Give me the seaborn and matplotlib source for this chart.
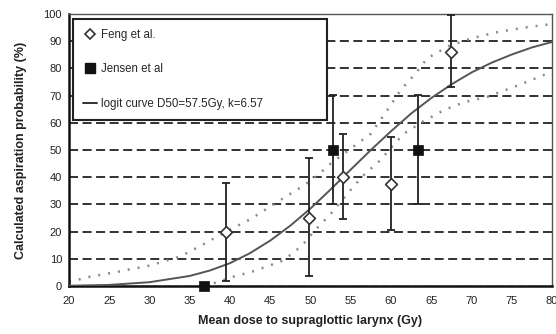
import numpy as np
import pandas as pd
import matplotlib
matplotlib.use("Agg")
import matplotlib.pyplot as plt
import seaborn as sns
from matplotlib.lines import Line2D

# ---- data ----
feng_dose = [39.5, 49.8, 54.0, 60.0, 67.5]
feng_prob = [20.0, 25.0, 40.0, 37.5, 86.0]
feng_lo = [2.0, 3.5, 24.5, 20.5, 73.0]
feng_hi = [37.7, 47.0, 55.8, 54.7, 99.6]

jensen_dose = [36.8, 52.8, 63.3]
jensen_prob = [0.0, 50.0, 50.0]
jensen_lo = [0.0, 30.0, 30.0]
jensen_hi = [0.0, 70.3, 70.3]

curve_dose = [20, 25, 30, 35, 37.5, 40, 42.5, 45, 47.5, 50, 52.5, 55, 57.5,
              60, 62.5, 65, 67.5, 70, 72.5, 75, 77.5, 80]
curve_prob = [0.1, 0.4, 1.4, 3.7, 5.7, 8.4, 12.1, 16.7, 22.2, 28.5, 35.5, 42.8, 50.0,
              56.9, 63.4, 69.1, 74.1, 78.5, 82.1, 85.1, 87.7, 89.7]

upper_dose = [20, 22.6, 26, 30, 33.8, 36.5, 39.5, 42.5, 45, 47, 49.2, 51, 52.5, 55,
              57.5, 59.5, 61.2, 63, 64.5, 67, 69.9, 73, 76.5, 80]
upper_prob = [1.5, 3.4, 5.2, 7.5, 10.8, 15.0, 20.0, 24.5, 29.2, 33.0, 37.0, 41.0, 45.0, 50.5,
              56.0, 64.5, 72.0, 78.0, 83.7, 88.0, 91.0, 93.2, 95.0, 96.3]

lower_dose = [38.0, 40.4, 43, 46.3, 47.5, 49, 50.4, 52.5, 54.6, 56.5, 58.7, 60.2,
              61.6, 64, 66.6, 69, 72, 76, 80]
lower_prob = [1.0, 3.4, 5.5, 9.0, 11.4, 15.0, 20.0, 26.5, 34.0, 40.5, 46.3, 51.5,
              56.0, 60.5, 64.7, 67.5, 69.6, 74.0, 78.8]

x_ticks = [20, 25, 30, 35, 40, 45, 50, 55, 60, 65, 70, 75, 80]
y_ticks = [0, 10, 20, 30, 40, 50, 60, 70, 80, 90, 100]

sns.set_style("white")
plt.rcParams['font.family'] = ['Liberation Sans', 'DejaVu Sans']

fig = plt.figure(figsize=(5.56, 3.34), dpi=100)
ax = fig.add_axes([69/556, 1-286/334, (552-69)/556, (286-14)/334])

# gridlines
for yv in y_ticks[1:-1]:
    ax.axhline(yv, color='#222222', lw=1.3, ls=(0, (5, 2.5)), zorder=1)
ax.axhline(0, color='#222222', lw=1.0, ls=(0, (5, 2.5)), zorder=1)

sns.lineplot(x=upper_dose, y=upper_prob, ax=ax, color='#8a8a8a', lw=1.8,
             linestyle=(0, (0.8, 3.2)), zorder=2)
sns.lineplot(x=lower_dose, y=lower_prob, ax=ax, color='#8a8a8a', lw=1.8,
             linestyle=(0, (0.8, 3.2)), zorder=2)
sns.lineplot(x=curve_dose, y=curve_prob, ax=ax, color='#555555', lw=1.4, zorder=3)

# error bars
fy = np.array(feng_prob)
ax.errorbar(feng_dose, feng_prob,
            yerr=[fy - np.array(feng_lo), np.array(feng_hi) - fy],
            fmt='none', ecolor='#222222', elinewidth=1.3, capsize=3, capthick=1.3, zorder=4)
jy = np.array(jensen_prob)
ax.errorbar(jensen_dose[1:], jensen_prob[1:],
            yerr=[(jy - np.array(jensen_lo))[1:], (np.array(jensen_hi) - jy)[1:]],
            fmt='none', ecolor='#222222', elinewidth=1.3, capsize=3, capthick=1.3, zorder=4)

sns.scatterplot(x=feng_dose, y=feng_prob, ax=ax, marker='D', s=36,
                facecolor='white', edgecolor='#333333', linewidth=1.2, zorder=5)
sns.scatterplot(x=jensen_dose, y=jensen_prob, ax=ax, marker='s', s=55,
                color='#111111', edgecolor='#111111', linewidth=0.5, zorder=5, clip_on=False)

ax.set_xlim(20, 80)
ax.set_ylim(0, 100)
ax.set_xticks(x_ticks)
ax.set_yticks(y_ticks)
ax.tick_params(axis='both', labelsize=8, colors='#222222', length=3, width=1.2,
               direction='out', pad=2)
ax.tick_params(axis='x', pad=4)

for s in ['left', 'bottom']:
    ax.spines[s].set_color('#111111')
    ax.spines[s].set_linewidth(1.8)
for s in ['top', 'right']:
    ax.spines[s].set_color('#555555')
    ax.spines[s].set_linewidth(1.0)

ax.set_xlabel('Mean dose to supraglottic larynx (Gy)', fontsize=9, fontweight='bold',
              color='#222222', labelpad=7)
ax.set_ylabel('Calculated aspiration probability (%)', fontsize=9, fontweight='bold',
              color='#222222', labelpad=12)

handles = [
    Line2D([], [], marker='D', ls='none', markerfacecolor='white', markeredgecolor='#333333',
           markersize=5.5, markeredgewidth=1.2),
    Line2D([], [], marker='s', ls='none', color='#111111', markersize=7),
    Line2D([], [], color='#222222', lw=1.3),
]
labels = ['Feng et al.', 'Jensen et al', 'logit curve D50=57.5Gy, k=6.57']
leg = ax.legend(handles, labels, loc='upper left',
                bbox_to_anchor=(4/483, 1-(118-14)/272, (327-73)/483, (118-19)/272),
                mode='expand', fontsize=8.3, frameon=True, fancybox=False,
                edgecolor='#222222', framealpha=1, labelspacing=1.95,
                handlelength=1.2, handletextpad=0.4, borderpad=0.85, borderaxespad=0)
leg.get_frame().set_linewidth(1.5)
leg.set_zorder(10)

fig.savefig('out.png', dpi=100)
